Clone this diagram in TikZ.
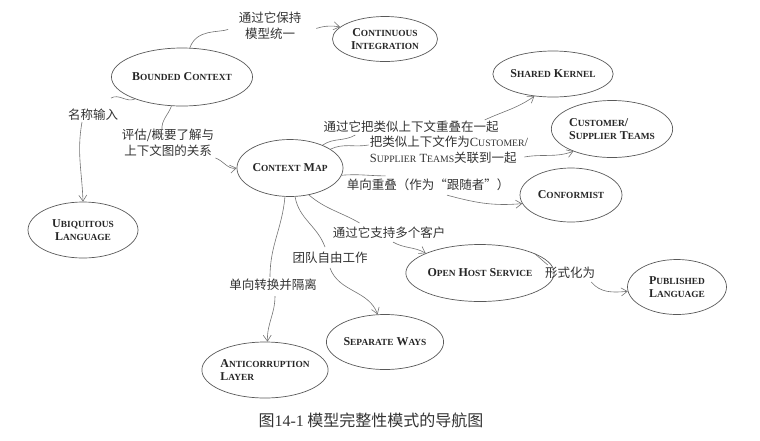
\documentclass[tikz,border=0pt]{standalone}
\usepackage{fontspec}
\setmainfont{Liberation Serif}
\newfontfamily\cjk{Noto Sans CJK SC}
\usepackage{tikz}
\usetikzlibrary{arrows.meta,shapes.geometric}

\definecolor{linegray}{gray}{0.45}
\definecolor{rimgray}{gray}{0.35}
\newcommand\Sc[2]{#1\scalebox{0.78}{#2}}

\begin{document}
\begin{tikzpicture}[x=1pt,y=1pt,
    pat/.style={ellipse,draw=rimgray,line width=0.7pt,inner sep=0pt,align=center,
        font=\fontsize{12}{13.5}\selectfont\bfseries,text=black!85},
    lab/.style={inner sep=1pt,font=\cjk\fontsize{12.5}{16}\selectfont,text=black!80},
    link/.style={draw=linegray,line width=0.6pt},
    arr/.style={link,-{Straight Barb[length=6pt,width=8pt]}}]

    \useasboundingbox (0,0) rectangle (760,-440);

    % Draw the patterns
    \node[pat,minimum width=105,minimum height=45] (ci) at (385,-39) {\Sc{C}{ONTINUOUS}\\\Sc{I}{NTEGRATION}};
    \node[pat,minimum width=113,minimum height=58] (bc) at (182,-77) {\Sc{B}{OUNDED} \Sc{C}{ONTEXT}};
    \node[pat,minimum width=104,minimum height=57] (cm) at (290,-168) {\Sc{C}{ONTEXT} \Sc{M}{AP}};
    \node[pat,minimum width=100,minimum height=46] (sk) at (553,-74) {\Sc{S}{HARED} \Sc{K}{ERNEL}};
    \node[pat,minimum width=115,minimum height=57,align=left] (cst) at (612,-129) {\Sc{C}{USTOMER}/\\\Sc{S}{UPPLIER} \Sc{T}{EAMS}};
    \node[pat,minimum width=102,minimum height=54] (cf) at (571,-195) {\Sc{C}{ONFORMIST}};
    \node[pat,minimum width=110,minimum height=56] (ul) at (83,-230) {\Sc{U}{BIQUITOUS}\\\Sc{L}{ANGUAGE}};
    \node[pat,minimum width=116,minimum height=57] (ohs) at (480,-273) {\Sc{O}{PEN} \Sc{H}{OST} \Sc{S}{ERVICE}};
    \node[pat,minimum width=99,minimum height=55,align=left] (pl) at (677,-287) {\Sc{P}{UBLISHED}\\\Sc{L}{ANGUAGE}};
    \node[pat,minimum width=105,minimum height=55] (sw) at (385,-342) {\Sc{S}{EPARATE} \Sc{W}{AYS}};
    \node[pat,minimum width=105,minimum height=56,align=left] (acl) at (265,-370) {\Sc{A}{NTICORRUPTION}\\\Sc{L}{AYER}};

    % Draw the labels
    \node[lab,align=center] (lci) at (270,-26) {通过它保持\\模型统一};
    \node[lab] (lname) at (93,-115) {名称输入};
    \node[lab,align=center] (leval) at (168,-143) {评估/概要了解与\\上下文图的关系};
    \node[lab] (lsk) at (411,-127) {通过它把类似上下文重叠在一起};
    \node[lab,align=left] (lcst) at (449,-150) {把类似上下文作为{\rmfamily\Sc{C}{USTOMER}/}\\{\rmfamily\Sc{S}{UPPLIER} \Sc{T}{EAMS}}关联到一起};
    \node[lab] (lcf) at (428,-185) {单向重叠（作为“跟随者”）};
    \node[lab] (lohs) at (389,-233) {通过它支持多个客户};
    \node[lab] (lsw) at (330,-258) {团队自由工作};
    \node[lab] (lacl) at (273,-285) {单向转换并隔离};
    \node[lab] (lpl) at (570,-273) {形式化为};

    % Draw the connectors
    \draw[link,shorten >=10pt] (bc.75) to[out=70,in=200] (lci.west);
    \draw[arr,shorten <=14pt] (lci.east) to[out=-10,in=170] (ci.165);

    \draw[link] (bc.205) to[out=205,in=30] ([xshift=18pt,yshift=10pt]lname.north);
    \draw[arr] ([xshift=-11pt]lname.south) to[out=-100,in=92] (ul.north);

    \draw[link] (bc.250) to[out=250,in=95] ([xshift=-6pt,yshift=-2pt]leval.north);
    \draw[arr] (leval.south east) to[out=-20,in=190] (cm.west);

    \draw[link] (cm.35) to[out=35,in=210] ([xshift=33pt,yshift=-1pt]lsk.south west);
    \draw[arr] ([xshift=-15pt]lsk.north east) to[out=25,in=215] (sk.230);

    \draw[link] (cm.25) to[out=25,in=190] ([yshift=5pt]lcst.west);
    \draw[arr] ([yshift=-7pt,xshift=-5pt]lcst.east) to[out=10,in=200] (cst.210);

    \draw[link] (cm.-8) to[out=5,in=180] ([xshift=40pt,yshift=2pt]lcf.north west);
    \draw[arr] ([xshift=19pt,yshift=-3pt]lcf.south) to[out=-15,in=185] (cf.190);

    \draw[link] (cm.-55) to[out=-40,in=150] ([xshift=28pt,yshift=3pt]lohs.north west);
    \draw[arr] ([xshift=4pt,yshift=-2pt]lohs.south) to[out=-30,in=150] (ohs.160);

    \draw[link] (cm.-80) to[out=-80,in=110] ([xshift=-5pt,yshift=4pt]lsw.north);
    \draw[arr] ([yshift=-3pt]lsw.south) to[out=-70,in=110] (sw.105);

    \draw[link] (cm.-100) to[out=-95,in=90] ([xshift=-3pt,yshift=1pt]lacl.north);
    \draw[arr] ([xshift=2pt,yshift=-4pt]lacl.south) to[out=-90,in=92] (acl.85);

    \draw[link] (ohs.20) -- ([xshift=4pt,yshift=1pt]lpl.north west);
    \draw[arr] ([xshift=-5pt,yshift=-2pt]lpl.south east) to[out=-50,in=185] (pl.185);

    % Draw the caption
    \node[font=\cjk\fontsize{16}{18}\selectfont,text=black!80] (cap) at (371,-420) {图{\rmfamily 14-1} 模型完整性模式的导航图};

\end{tikzpicture}
\end{document}
